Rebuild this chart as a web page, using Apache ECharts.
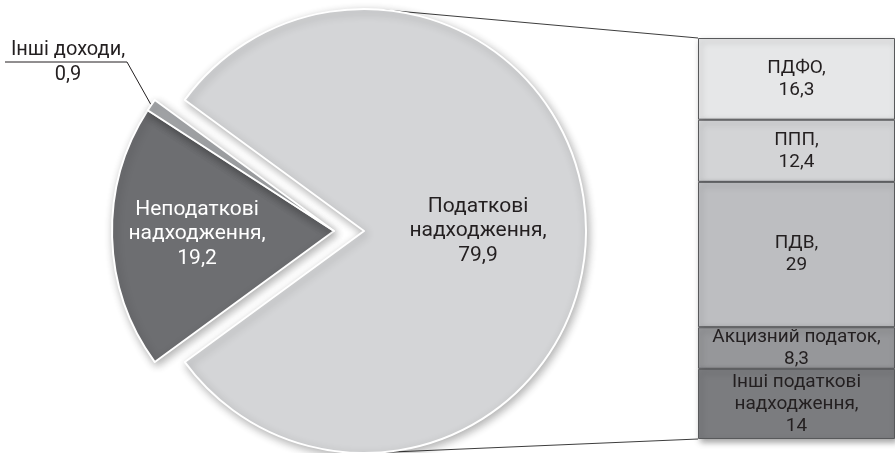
<!DOCTYPE html>
<html>
<head>
<meta charset="utf-8">
<script src="https://cdn.jsdelivr.net/npm/echarts@6/dist/echarts.min.js"></script>
<style>
  html, body { margin: 0; padding: 0; background: #fff; }
  #chart { width: 895px; height: 453px; }
</style>
</head>
<body>
<div id="chart"></div>
<script>
// Revenue structure: main pie and breakdown of tax revenues
const pieLabels = ['Податкові\nнадходження', 'Неподаткові\nнадходження', 'Інші доходи'];
const pieValues = [79.9, 19.2, 0.9];
const pieColors = ['#d4d5d7', '#6d6e71', '#a7a9ac'];

const barLabels = ['ПДФО', 'ППП', 'ПДВ', 'Акцизний податок', 'Інші податкові\nнадходження'];
const barValues = [16.3, 12.4, 29, 8.3, 14];
const barColors = ['#e6e7e8', '#d3d4d6', '#bdbec1', '#96979a', '#7b7c7f'];

const FONT = 'Roboto, "Open Sans", sans-serif';
const TEXT = '#231f20';
const fmt = v => String(v).replace('.', ',');

// layout
const PIE_C = [364, 231];
const PIE_R = 222;
const EXPLODE = 30;
const GRID = { left: 698, top: 38, width: 197, height: 401 };

const pieTotal = pieValues.reduce((a, b) => a + b, 0);
const barTotal = barValues.reduce((a, b) => a + b, 0);
// the main slice is centred on the right, the remaining slices on the left
const startAngle = 180 - 180 * (pieTotal - pieValues[0]) / pieTotal;

const shadow = { shadowBlur: 8, shadowColor: 'rgba(0,0,0,0.3)', shadowOffsetX: 2, shadowOffsetY: 3 };

const hiddenItem = v => ({
  value: v,
  itemStyle: { color: 'transparent', borderWidth: 0, shadowBlur: 0, shadowColor: 'transparent' },
  label: { show: false },
  labelLine: { show: false },
  emphasis: { disabled: true }
});

function pieItem(i) {
  const item = {
    value: pieValues[i],
    name: pieLabels[i],
    itemStyle: Object.assign({ color: pieColors[i], borderColor: '#fff', borderWidth: 2 }, shadow),
    label: {
      show: true,
      position: 'inside',
      formatter: pieLabels[i] + ',\n' + fmt(pieValues[i]),
      color: i === 1 ? '#fff' : TEXT,
      fontFamily: FONT,
      fontSize: 21,
      lineHeight: 24.5,
      align: 'center'
    },
    labelLine: { show: false }
  };
  if (i === 2) {
    item.label.position = 'outside';
    item.label.fontSize = 20;
    item.labelLine = { show: true, length: 20, length2: 20, lineStyle: { color: TEXT, width: 1 } };
    item.label.lineHeight = 25;
  }
  return item;
}

// outer point of the small slice on the exploded pie
function smallSliceEdge() {
  const before = pieValues[0] + pieValues[1];
  const mid = startAngle - 360 * (before + pieValues[2] / 2) / pieTotal;
  const r = mid * Math.PI / 180;
  return [PIE_C[0] - EXPLODE + PIE_R * Math.cos(r), PIE_C[1] - PIE_R * Math.sin(r)];
}

const series = [
  {
    type: 'pie',
    center: PIE_C,
    radius: PIE_R,
    startAngle: startAngle,
    clockwise: true,
    avoidLabelOverlap: false,
    z: 3,
    data: pieValues.map((v, i) => i === 0 ? pieItem(i) : hiddenItem(v))
  },
  {
    type: 'pie',
    center: [PIE_C[0] - EXPLODE, PIE_C[1]],
    radius: PIE_R,
    startAngle: startAngle,
    clockwise: true,
    avoidLabelOverlap: false,
    z: 3,
    data: pieValues.map((v, i) => i === 0 ? hiddenItem(v) : pieItem(i)),
    labelLayout: function (p) {
      if (p.dataIndex === 1) return { dx: -23 };
      if (p.dataIndex === 2) {
        const edge = smallSliceEdge();
        return {
          x: 68, y: 62, align: 'center', verticalAlign: 'middle',
          labelLinePoints: [edge, [127, 62], [5, 62]]
        };
      }
    }
  }
];

barValues.forEach((v, i) => {
  series.push({
    type: 'bar',
    stack: 'tax',
    name: barLabels[i],
    data: [v],
    barWidth: '100%',
    itemStyle: Object.assign({ color: barColors[i], borderColor: '#58595b', borderWidth: 1 },
      { shadowBlur: 6, shadowColor: 'rgba(0,0,0,0.35)', shadowOffsetX: 2, shadowOffsetY: 3 }),
    label: {
      show: true,
      position: 'inside',
      formatter: barLabels[i] + ',\n' + fmt(v),
      color: TEXT,
      fontFamily: FONT,
      fontSize: 19,
      lineHeight: 22
    },
    emphasis: { disabled: true }
  });
});

// connector lines tangent to the pie, ending at the bar corners
function tangent(px, py, sign) {
  const dx = px - PIE_C[0], dy = py - PIE_C[1];
  const d = Math.hypot(dx, dy);
  const t = Math.atan2(dy, dx) + sign * Math.acos(PIE_R / d);
  return [PIE_C[0] + PIE_R * Math.cos(t), PIE_C[1] + PIE_R * Math.sin(t)];
}
const barTopLeft = [GRID.left, GRID.top];
const barBottomLeft = [GRID.left, GRID.top + GRID.height];
const tTop = tangent(barTopLeft[0], barTopLeft[1], -1);
const tBottom = tangent(barBottomLeft[0], barBottomLeft[1], 1);

const chart = echarts.init(document.getElementById('chart'), null, { renderer: 'canvas' });
chart.setOption({
  backgroundColor: '#fff',
  animation: false,
  grid: { left: GRID.left, top: GRID.top, width: GRID.width, height: GRID.height, containLabel: false },
  xAxis: { type: 'category', data: [''], show: false },
  yAxis: { type: 'value', inverse: true, min: 0, max: barTotal, show: false },
  graphic: [
    { type: 'line', z: 1, silent: true,
      shape: { x1: tTop[0], y1: tTop[1], x2: barTopLeft[0], y2: barTopLeft[1] },
      style: { stroke: '#3d3d3d', lineWidth: 1 } },
    { type: 'line', z: 1, silent: true,
      shape: { x1: tBottom[0], y1: tBottom[1], x2: barBottomLeft[0], y2: barBottomLeft[1] },
      style: { stroke: '#3d3d3d', lineWidth: 1 } }
  ],
  series: series
});
</script>
</body>
</html>
